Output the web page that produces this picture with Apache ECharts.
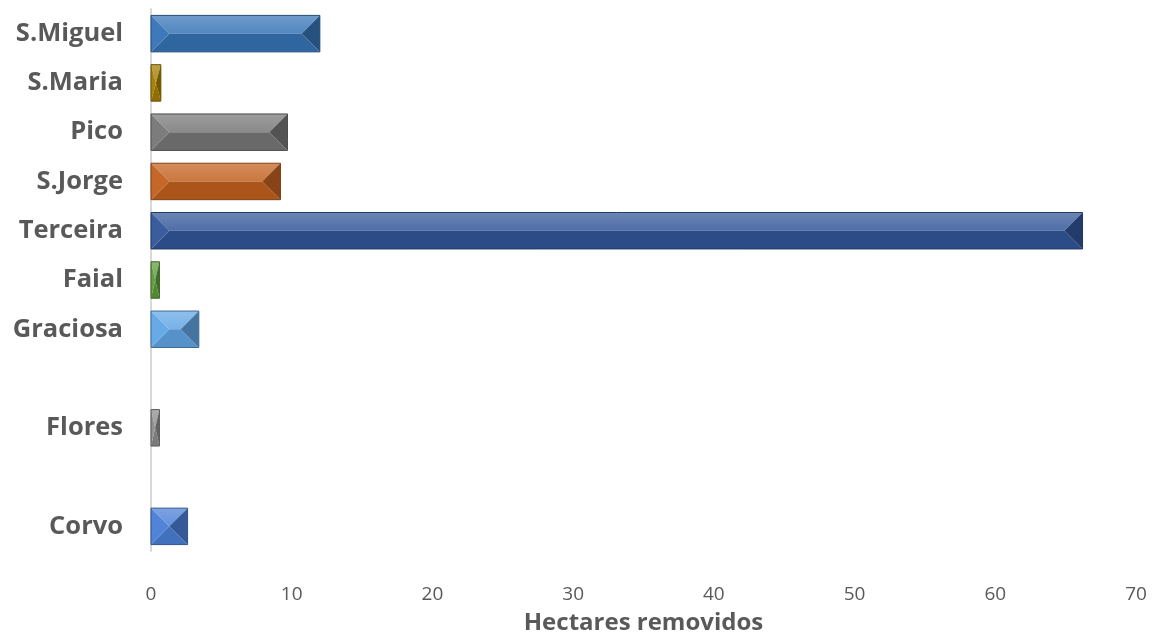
<!DOCTYPE html>
<html>
<head>
<meta charset="utf-8">
<script src="https://cdn.jsdelivr.net/npm/echarts@6/dist/echarts.min.js"></script>
<style>
html,body{margin:0;padding:0;background:#fff;}
#chart{width:1153px;height:633px;}
</style>
</head>
<body>
<div id="chart"></div>
<script>
// categories top to bottom (blank entries = empty slots)
const categories = ['S.Miguel', 'S.Maria', 'Pico', 'S.Jorge', 'Terceira', 'Faial', 'Graciosa', ' ', 'Flores', '  ', 'Corvo'];
const barCategories = ['S.Miguel', 'S.Maria', 'Pico', 'S.Jorge', 'Terceira', 'Faial', 'Graciosa', 'Flores', 'Corvo'];
const hectares = [12.0, 0.7, 9.7, 9.2, 66.2, 0.6, 3.4, 0.6, 2.6];
const barColors = ['#3674b6', '#a47d00', '#777777', '#c2611f', '#32569a', '#5e9a3a', '#62a6e4', '#8c8c8c', '#4a7fd6'];
const xTicks = [0, 10, 20, 30, 40, 50, 60, 70];

function shade(hex, f) {
  const n = parseInt(hex.slice(1), 16);
  let r = (n >> 16) & 255, g = (n >> 8) & 255, b = n & 255;
  if (f >= 0) { r += (255 - r) * f; g += (255 - g) * f; b += (255 - b) * f; }
  else { r *= (1 + f); g *= (1 + f); b *= (1 + f); }
  return 'rgb(' + Math.round(r) + ',' + Math.round(g) + ',' + Math.round(b) + ')';
}

const data = barCategories.map((c, i) => ({ value: [hectares[i], categories.indexOf(c)], color: barColors[i] }));

function renderItem(params, api) {
  const v = api.value(0), idx = api.value(1);
  const s = api.coord([0, idx]);
  const e = api.coord([v, idx]);
  const bw = api.size([0, 1])[1] * 0.74;
  const x0 = s[0], x1 = e[0], yc = s[1], y0 = yc - bw / 2, y1 = yc + bw / 2;
  const b = Math.min(bw / 2, (x1 - x0) / 2);
  const base = data[params.dataIndex].color;
  const poly = (pts, fill) => ({ type: 'polygon', shape: { points: pts }, style: { fill: fill, stroke: null } });
  const topFill = new echarts.graphic.LinearGradient(0, 0, 0, 1, [
    { offset: 0, color: shade(base, 0.28) }, { offset: 1, color: shade(base, 0.14) }
  ]);
  return {
    type: 'group',
    children: [
      poly([[x0, y0], [x1, y0], [x1 - b, yc], [x0 + b, yc]], topFill),
      poly([[x0, y1], [x1, y1], [x1 - b, yc], [x0 + b, yc]], shade(base, -0.12)),
      poly([[x0, y0], [x0 + b, yc], [x0, y1]], shade(base, 0.04)),
      poly([[x1, y0], [x1 - b, yc], [x1, y1]], shade(base, -0.3)),
      { type: 'rect', shape: { x: x0, y: y0, width: x1 - x0, height: bw }, style: { fill: 'none', stroke: shade(base, -0.35), lineWidth: 1 } }
    ]
  };
}

const chart = echarts.init(document.getElementById('chart'));
chart.setOption({
  animation: false,
  grid: { left: 151, right: 17, top: 9, bottom: 82, containLabel: false, outerBoundsMode: 'none' },
  xAxis: {
    type: 'value', min: 0, max: 70, interval: 10,
    axisLine: { show: false }, axisTick: { show: false }, splitLine: { show: false },
    axisLabel: { color: '#595959', fontSize: 19, fontFamily: 'Open Sans', margin: 34, formatter: v => xTicks.includes(v) ? String(v) : '' },
    name: 'Hectares removidos', nameLocation: 'middle', nameGap: 60,
    nameTextStyle: { color: '#595959', fontSize: 24, fontWeight: 'bold', fontFamily: 'Open Sans' }
  },
  yAxis: {
    type: 'category', data: categories, inverse: true,
    axisLine: { show: true, lineStyle: { color: '#d9d9d9', width: 2 } },
    axisTick: { show: false },
    axisLabel: { color: '#595959', fontSize: 25.5, fontWeight: 'bold', fontFamily: 'Open Sans', margin: 28 }
  },
  series: [{ type: 'custom', renderItem: renderItem, data: data, encode: { x: 0, y: 1 } }]
});
</script>
</body>
</html>
